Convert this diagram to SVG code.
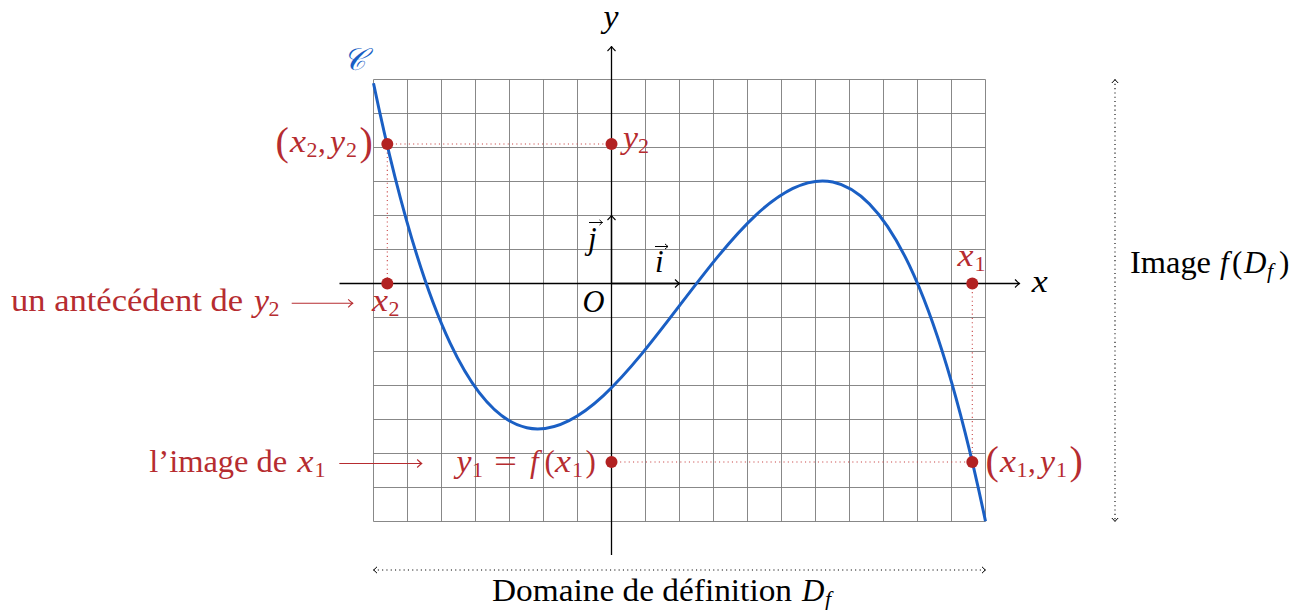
<svg xmlns="http://www.w3.org/2000/svg" width="1302" height="610" viewBox="0 0 1302 610">
<style>
.t{font-family:"Liberation Serif","Times New Roman",serif;font-size:31px;fill:#000}
.i{font-style:italic}
.s{font-size:22px}
.r{fill:#b62c30}
.bp{font-size:40px}
.grid line{stroke:#7a7a7a;stroke-width:0.9}
.ax{stroke:#000;stroke-width:1.3;fill:none}
.rdot{stroke:#c84444;stroke-width:1.1;stroke-dasharray:1.1 3.2;fill:none}
.kdot{stroke:#000;stroke-width:1.1;stroke-dasharray:1.1 3.2;fill:none}
.rarr{stroke:#b62c30;stroke-width:1.1;fill:none}
.pt{fill:#b22222}
</style>
<defs>
<marker id="ak" viewBox="-6 -5 7 10" refX="0" refY="0" markerWidth="7" markerHeight="10" markerUnits="userSpaceOnUse" orient="auto-start-reverse">
<path d="M-4.5,-4 Q-1.5,-1 0,0 Q-1.5,1 -4.5,4" fill="none" stroke="#000" stroke-width="1.1"/>
</marker>
<marker id="akd" viewBox="-6 -5 7 10" refX="0" refY="0" markerWidth="7" markerHeight="10" markerUnits="userSpaceOnUse" orient="auto-start-reverse">
<path d="M-3.5,-3.2 Q-1.2,-0.8 0,0 Q-1.2,0.8 -3.5,3.2" fill="none" stroke="#000" stroke-width="1"/>
</marker>
<marker id="ar" viewBox="-6 -5 7 10" refX="0" refY="0" markerWidth="7" markerHeight="10" markerUnits="userSpaceOnUse" orient="auto">
<path d="M-4.5,-4 Q-1.5,-1 0,0 Q-1.5,1 -4.5,4" fill="none" stroke="#b62c30" stroke-width="1.1"/>
</marker>
<marker id="av" viewBox="-5 -4 6 8" refX="0" refY="0" markerWidth="6" markerHeight="8" markerUnits="userSpaceOnUse" orient="auto">
<path d="M-3,-2.6 Q-1,-0.7 0,0 Q-1,0.7 -3,2.6" fill="none" stroke="#000" stroke-width="1"/>
</marker>
</defs>
<rect width="1302" height="610" fill="#fff"/>

<g id="grid" class="grid">
<line x1="373.5" y1="79.5" x2="373.5" y2="521.5"/><line x1="407.5" y1="79.5" x2="407.5" y2="521.5"/><line x1="441.5" y1="79.5" x2="441.5" y2="521.5"/><line x1="475.5" y1="79.5" x2="475.5" y2="521.5"/><line x1="509.5" y1="79.5" x2="509.5" y2="521.5"/><line x1="543.5" y1="79.5" x2="543.5" y2="521.5"/><line x1="577.5" y1="79.5" x2="577.5" y2="521.5"/><line x1="611.5" y1="79.5" x2="611.5" y2="521.5"/><line x1="645.5" y1="79.5" x2="645.5" y2="521.5"/><line x1="679.5" y1="79.5" x2="679.5" y2="521.5"/><line x1="713.5" y1="79.5" x2="713.5" y2="521.5"/><line x1="747.5" y1="79.5" x2="747.5" y2="521.5"/><line x1="781.5" y1="79.5" x2="781.5" y2="521.5"/><line x1="815.5" y1="79.5" x2="815.5" y2="521.5"/><line x1="849.5" y1="79.5" x2="849.5" y2="521.5"/><line x1="883.5" y1="79.5" x2="883.5" y2="521.5"/><line x1="917.5" y1="79.5" x2="917.5" y2="521.5"/><line x1="951.5" y1="79.5" x2="951.5" y2="521.5"/><line x1="985.5" y1="79.5" x2="985.5" y2="521.5"/>
<line x1="373.5" y1="79.5" x2="985.5" y2="79.5"/><line x1="373.5" y1="113.5" x2="985.5" y2="113.5"/><line x1="373.5" y1="147.5" x2="985.5" y2="147.5"/><line x1="373.5" y1="181.5" x2="985.5" y2="181.5"/><line x1="373.5" y1="215.5" x2="985.5" y2="215.5"/><line x1="373.5" y1="249.5" x2="985.5" y2="249.5"/><line x1="373.5" y1="283.5" x2="985.5" y2="283.5"/><line x1="373.5" y1="317.5" x2="985.5" y2="317.5"/><line x1="373.5" y1="351.5" x2="985.5" y2="351.5"/><line x1="373.5" y1="385.5" x2="985.5" y2="385.5"/><line x1="373.5" y1="419.5" x2="985.5" y2="419.5"/><line x1="373.5" y1="453.5" x2="985.5" y2="453.5"/><line x1="373.5" y1="487.5" x2="985.5" y2="487.5"/><line x1="373.5" y1="521.5" x2="985.5" y2="521.5"/>
</g>

<g id="axes">
<line class="ax" x1="339.5" y1="283.5" x2="1019.5" y2="283.5" marker-end="url(#ak)"/>
<line class="ax" x1="611.5" y1="555" x2="611.5" y2="46.5" marker-end="url(#ak)"/>
<line class="ax" x1="611.5" y1="283.5" x2="679.5" y2="283.5" marker-end="url(#ak)"/>
<line class="ax" x1="611.5" y1="283.5" x2="611.5" y2="215.5" marker-end="url(#ak)"/>
<text class="t i" x="1031.7" y="291.7" textLength="16" lengthAdjust="spacingAndGlyphs">x</text>
<text class="t i" x="603.5" y="27" textLength="15" lengthAdjust="spacingAndGlyphs">y</text>
<text class="t i" x="582.5" y="312" textLength="22" lengthAdjust="spacingAndGlyphs">O</text>
<text class="t i" x="588" y="249">j</text>
<line x1="589" y1="222.5" x2="602.5" y2="222.5" stroke="#000" stroke-width="1" marker-end="url(#av)"/>
<text class="t i" x="655" y="271.7">i</text>
<line x1="655" y1="246.5" x2="668" y2="246.5" stroke="#000" stroke-width="1" marker-end="url(#av)"/>
</g>

<g id="guides">
<path class="rdot" d="M387.3,144 H611.5 M387.3,144 V283.5 M611.5,462 H972.3 M972.3,283.5 V462"/>
</g>

<g id="curve">
<path d="M373.5,83.2 C577.5,1060.1 781.5,-446.4 985.5,521.2" fill="none" stroke="#1a5fc4" stroke-width="3"/>
<text class="t" x="342.5" y="70" style="font-style:italic;fill:#1a5fc4">𝒞</text>
</g>

<g id="p-x2y2">
<circle class="pt" cx="387.3" cy="144" r="6"/>
<text class="t r bp" x="275.5" y="155">(</text>
<text class="t r i" x="290" y="152" textLength="16" lengthAdjust="spacingAndGlyphs">x</text>
<text class="t r s" x="306.5" y="157">2</text>
<text class="t r" x="318" y="152">,</text>
<text class="t r i" x="330" y="152" textLength="15" lengthAdjust="spacingAndGlyphs">y</text>
<text class="t r s" x="346" y="157">2</text>
<text class="t r bp" x="359.5" y="155">)</text>
</g>

<g id="p-y2">
<circle class="pt" cx="611.5" cy="144" r="6"/>
<text class="t r i" x="623" y="148" textLength="15" lengthAdjust="spacingAndGlyphs">y</text>
<text class="t r s" x="638" y="153">2</text>
</g>

<g id="p-x2">
<circle class="pt" cx="387.3" cy="283.5" r="6"/>
<text class="t r i" x="372" y="311" textLength="16" lengthAdjust="spacingAndGlyphs">x</text>
<text class="t r s" x="388.5" y="316">2</text>
</g>

<g id="p-x1">
<circle class="pt" cx="972.3" cy="283.5" r="6"/>
<text class="t r i" x="957.5" y="266" textLength="16" lengthAdjust="spacingAndGlyphs">x</text>
<text class="t r s" x="974.5" y="271">1</text>
</g>

<g id="p-y1">
<circle class="pt" cx="611.5" cy="462" r="6"/>
<text class="t r i" x="456.5" y="472" textLength="15" lengthAdjust="spacingAndGlyphs">y</text>
<text class="t r s" x="472" y="477">1</text>
<text class="t r" x="494" y="472" textLength="23" lengthAdjust="spacingAndGlyphs">=</text>
<text class="t r i" x="530" y="472">f</text>
<text class="t r" x="544.5" y="472">(</text>
<text class="t r i" x="555" y="472" textLength="16" lengthAdjust="spacingAndGlyphs">x</text>
<text class="t r s" x="572" y="477">1</text>
<text class="t r" x="585.5" y="472">)</text>
</g>

<g id="p-x1y1">
<circle class="pt" cx="972.3" cy="462" r="6"/>
<text class="t r bp" x="985.5" y="473.5">(</text>
<text class="t r i" x="1000" y="472" textLength="16" lengthAdjust="spacingAndGlyphs">x</text>
<text class="t r s" x="1016.5" y="477">1</text>
<text class="t r" x="1028" y="472">,</text>
<text class="t r i" x="1040" y="472" textLength="15" lengthAdjust="spacingAndGlyphs">y</text>
<text class="t r s" x="1056" y="477">1</text>
<text class="t r bp" x="1069.5" y="473.5">)</text>
</g>

<g id="lab-antecedent">
<text class="t r" x="11" y="311" textLength="232" lengthAdjust="spacingAndGlyphs">un antécédent de</text>
<text class="t r i" x="254" y="311" textLength="15" lengthAdjust="spacingAndGlyphs">y</text>
<text class="t r s" x="268.5" y="316">2</text>
</g>

<g id="lab-image-x1">
<text class="t r" x="149.3" y="472" textLength="138" lengthAdjust="spacingAndGlyphs">l’image de</text>
<text class="t r i" x="297.5" y="472" textLength="16" lengthAdjust="spacingAndGlyphs">x</text>
<text class="t r s" x="314.5" y="477">1</text>
</g>

<g id="lab-domaine">
<text class="t" x="492" y="601" textLength="300" lengthAdjust="spacingAndGlyphs">Domaine de définition</text>
<text class="t i" x="802" y="601">D</text>
<text class="t i s" x="825" y="606">f</text>
</g>

<g id="lab-imagef">
<text class="t" x="1130" y="273" textLength="81" lengthAdjust="spacingAndGlyphs">Image</text>
<text class="t i" x="1220" y="273">f</text>
<text class="t" x="1232" y="273">(</text>
<text class="t i" x="1244" y="273">D</text>
<text class="t i s" x="1267" y="278">f</text>
<text class="t" x="1279" y="273">)</text>
</g>

<g id="connectors">
<line class="rarr" x1="291.7" y1="303.3" x2="352.7" y2="303.3" marker-end="url(#ar)"/>
<line class="rarr" x1="339.3" y1="463.5" x2="421.7" y2="463.5" marker-end="url(#ar)"/>
<line class="kdot" x1="373.5" y1="570" x2="985.5" y2="570" marker-start="url(#akd)" marker-end="url(#akd)"/>
<line class="kdot" x1="1115" y1="79.5" x2="1115" y2="521.5" marker-start="url(#akd)" marker-end="url(#akd)"/>
</g>
</svg>
